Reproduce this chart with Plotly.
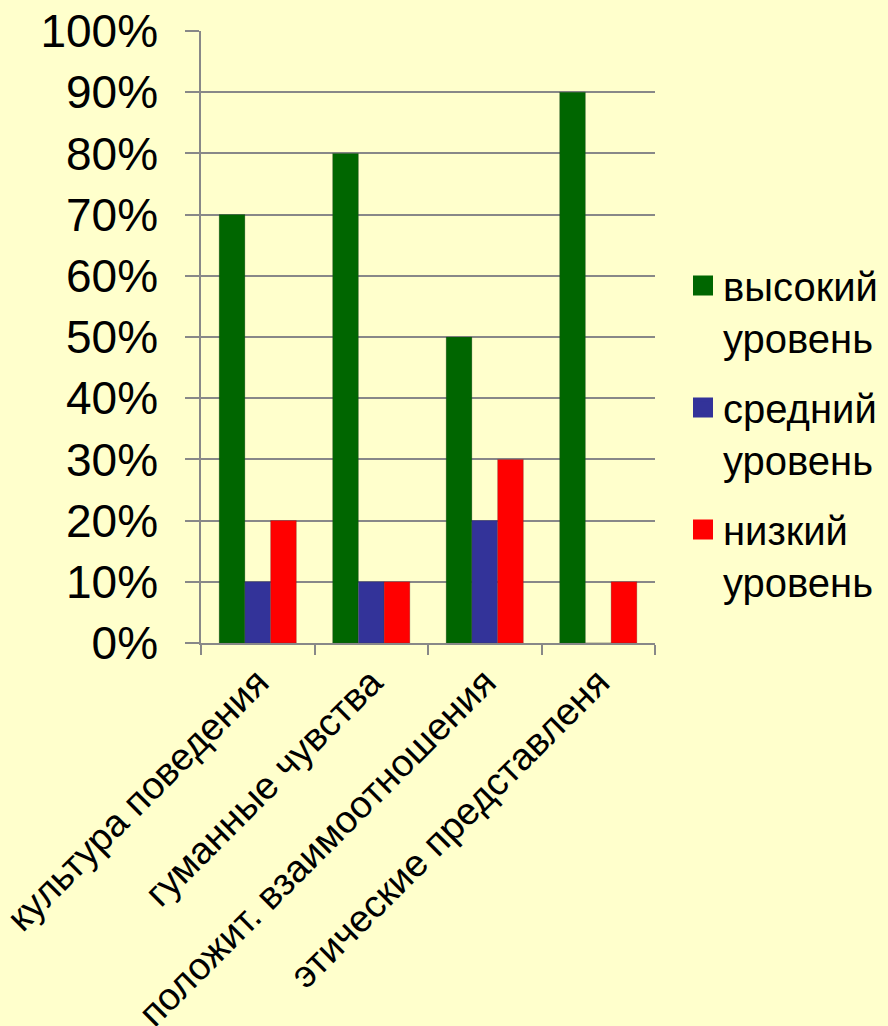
import plotly.graph_objects as go

categories = ["культура поведения", "гуманные чувства", "положит. взаимоотношения", "этические представленя"]
series_names = ["высокий<br>уровень", "средний<br>уровень", "низкий<br>уровень"]
high = [0.70, 0.80, 0.50, 0.90]
mid = [0.10, 0.10, 0.20, 0.0]
low = [0.20, 0.10, 0.30, 0.10]
colors = ["#006600", "#333399", "#FF0000"]
tick_vals = [0, 0.1, 0.2, 0.3, 0.4, 0.5, 0.6, 0.7, 0.8, 0.9, 1.0]
tick_text = ["0%", "10%", "20%", "30%", "40%", "50%", "60%", "70%", "80%", "90%", "100%"]

fig = go.Figure()
for name, vals, col in zip(series_names, [high, mid, low], colors):
    fig.add_trace(go.Bar(x=categories, y=vals, name=name, marker=dict(color=col, line=dict(color="rgba(60,60,60,0.5)", width=0.5)), showlegend=False))
for i, (name, col) in enumerate(zip(series_names, colors)):
    fig.add_trace(go.Scatter(x=[None], y=[None], mode="markers", name=name, legendgroup=f"g{i}",
                             marker=dict(symbol="square", size=16, color=col, line=dict(color=col, width=4))))

font_family = "Liberation Sans, Arial, sans-serif"
fig.update_layout(
    width=888, height=1026,
    margin=dict(l=201, r=233, t=31, b=383, autoexpand=False),
    paper_bgcolor="#FFFFCC", plot_bgcolor="#FFFFCC",
    barmode="group", bargap=0.32, bargroupgap=0,
    font=dict(family=font_family, color="#000000"),
    legend=dict(xref="container", yref="container", x=683/888, y=1-253/1026, xanchor="left", yanchor="top",
                font=dict(size=40, family=font_family), valign="top", itemsizing="trace",
                bgcolor="rgba(0,0,0,0)", tracegroupgap=15),
)
fig.update_yaxes(range=[0, 1], tickvals=tick_vals, ticktext=tick_text, showgrid=True, gridcolor="#888888", gridwidth=1.5,
                 showline=True, linecolor="#888888", linewidth=1.5, ticks="outside", ticklen=14, tickcolor="#888888", tickwidth=1.5,
                 tickfont=dict(size=46, family=font_family), ticklabelstandoff=18, zeroline=False, automargin=False)
fig.update_xaxes(showline=True, linecolor="#888888", linewidth=1.5, ticks="outside", ticklen=10, tickcolor="#888888", tickwidth=1.5,
                 tickson="boundaries", tickangle=-45, tickfont=dict(size=38, family=font_family), showgrid=False, automargin=False)

fig.write_html("out.html", config={"displayModeBar": False},
               post_script="document.body.style.margin='0';document.body.style.background='#FFFFCC';")
